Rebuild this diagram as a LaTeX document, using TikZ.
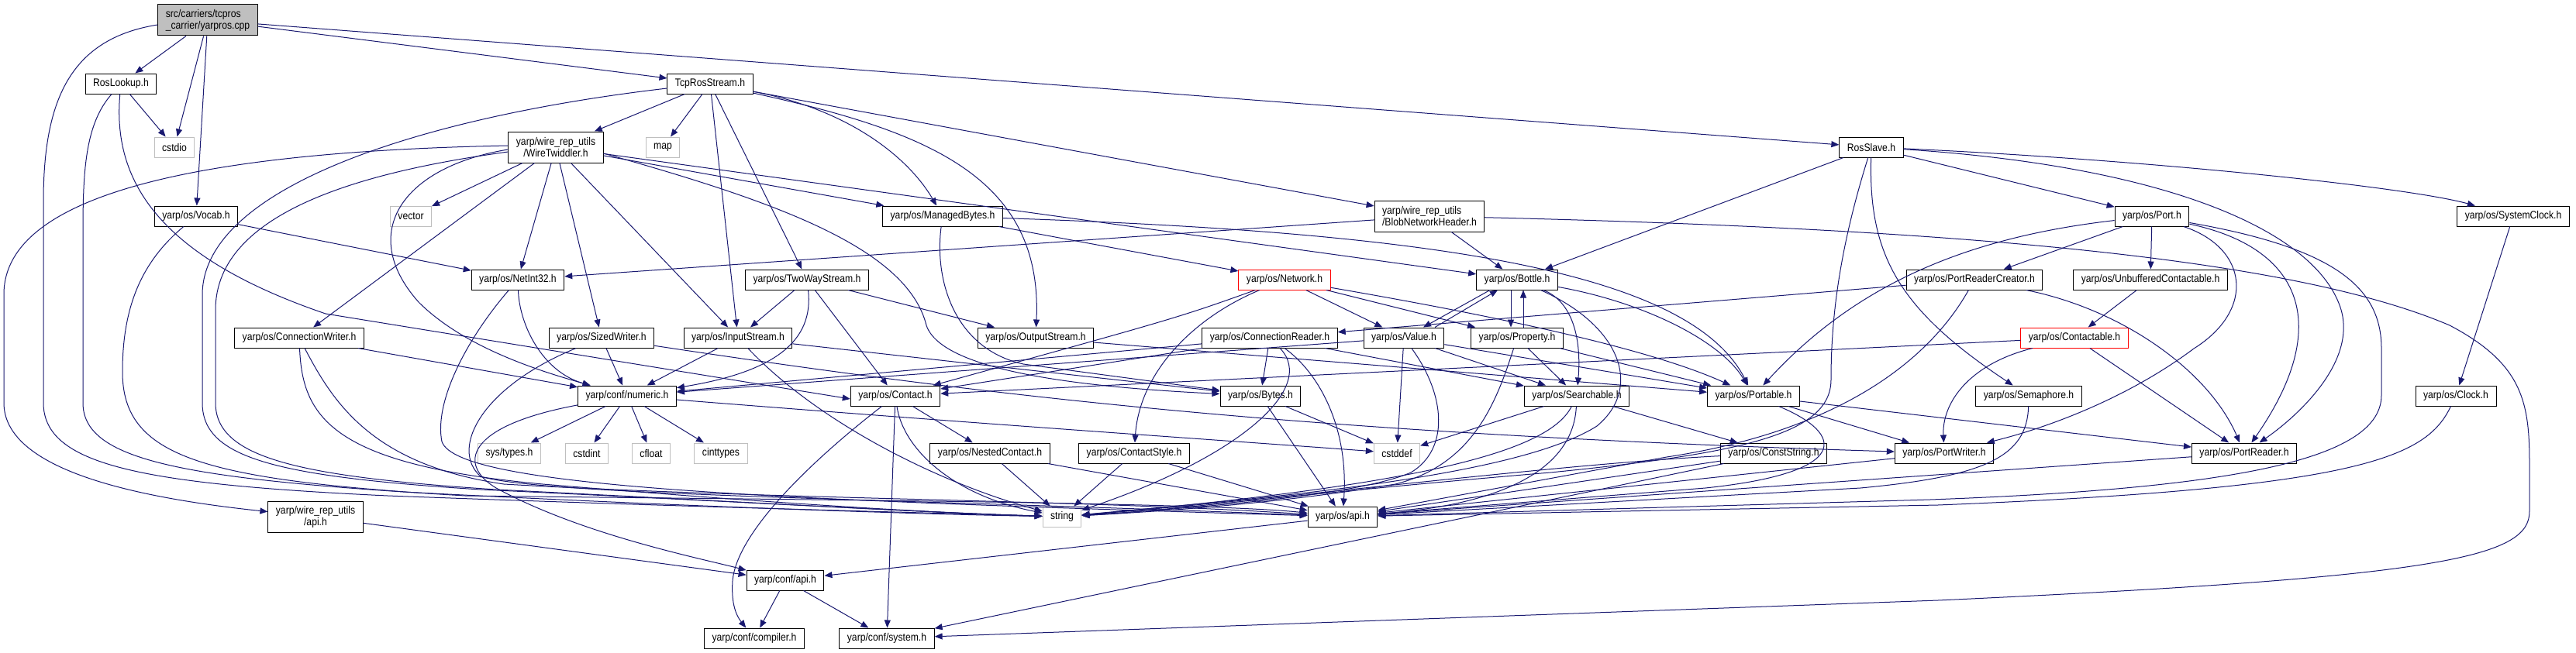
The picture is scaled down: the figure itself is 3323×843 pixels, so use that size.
\documentclass[tikz,border=0pt]{standalone}
\usepackage{fontspec}
\setmainfont{Liberation Sans}[FakeStretch=0.87]
\usetikzlibrary{arrows.meta}
\definecolor{edgeblue}{RGB}{25,25,112}
\definecolor{sysgray}{RGB}{191,191,191}
\newcommand{\hdrfont}{\fontsize{14}{15}\selectfont}
\tikzset{
  hdr/.style={draw=black, line width=1pt, fill=white, font=\hdrfont,
              inner xsep=10pt, inner ysep=0pt, minimum height=26pt},
  hdrtwo/.style={hdr, minimum height=40pt, align=center},
  syshdr/.style={hdr, draw=sysgray},
  redhdr/.style={hdr, draw=red},
  rootfile/.style={hdr, fill=sysgray, minimum height=40pt, align=left},
  dep/.style={draw=edgeblue, line width=1pt, -{Triangle[length=10pt,width=8pt]}},
}

\begin{document}
\begin{tikzpicture}[x=1pt, y=-1pt]
\useasboundingbox (0,0) rectangle (3323,843);

% headers, row by row
\node[rootfile] (root) at (268,26) {src/carriers/tcpros\\\_carrier/yarpros.cpp};

\node[hdr] (roslookup) at (156,108) {RosLookup.h};
\node[hdr] (tcpros) at (916,108) {TcpRosStream.h};

\node[syshdr] (cstdio) at (225,190) {cstdio};
\node[hdrtwo] (wiretw) at (717,190) {yarp/wire\_rep\_utils\\/WireTwiddler.h};
\node[syshdr] (map) at (855,190) {map};
\node[hdr] (rosslave) at (2414,190) {RosSlave.h};

\node[hdr] (vocab) at (253,279) {yarp/os/Vocab.h};
\node[syshdr] (vector) at (530,279) {vector};
\node[hdr] (managed) at (1216,279) {yarp/os/ManagedBytes.h};
\node[hdrtwo, align=left] (blobhdr) at (1844,279) {yarp/wire\_rep\_utils\\/BlobNetworkHeader.h};
\node[hdr] (port) at (2776,279) {yarp/os/Port.h};
\node[hdr] (sysclock) at (3242,279) {yarp/os/SystemClock.h};

\node[hdr] (netint) at (668,361) {yarp/os/NetInt32.h};
\node[hdr] (twoway) at (1041,361) {yarp/os/TwoWayStream.h};
\node[redhdr] (network) at (1657,361) {yarp/os/Network.h};
\node[hdr] (bottle) at (1957,361) {yarp/os/Bottle.h};
\node[hdr] (prcreator) at (2547,361) {yarp/os/PortReaderCreator.h};
\node[hdr] (unbuff) at (2774,361) {yarp/os/UnbufferedContactable.h};

\node[hdr] (connwriter) at (386,436) {yarp/os/ConnectionWriter.h};
\node[hdr] (sizedwriter) at (776,436) {yarp/os/SizedWriter.h};
\node[hdr] (inputstream) at (952,436) {yarp/os/InputStream.h};
\node[hdr] (outputstream) at (1336,436) {yarp/os/OutputStream.h};
\node[hdr] (connreader) at (1638,436) {yarp/os/ConnectionReader.h};
\node[hdr] (value) at (1811,436) {yarp/os/Value.h};
\node[hdr] (property) at (1957,436) {yarp/os/Property.h};
\node[redhdr] (contactable) at (2676,436) {yarp/os/Contactable.h};

\node[hdr] (numeric) at (809,511) {yarp/conf/numeric.h};
\node[hdr] (contact) at (1155,511) {yarp/os/Contact.h};
\node[hdr] (bytes) at (1626,511) {yarp/os/Bytes.h};
\node[hdr] (searchable) at (2034,511) {yarp/os/Searchable.h};
\node[hdr] (portable) at (2262,511) {yarp/os/Portable.h};
\node[hdr] (semaphore) at (2617,511) {yarp/os/Semaphore.h};
\node[hdr] (clock) at (3168,511) {yarp/os/Clock.h};

\node[syshdr] (systypes) at (657,585) {sys/types.h};
\node[syshdr] (cstdint) at (757,585) {cstdint};
\node[syshdr] (cfloat) at (840,585) {cfloat};
\node[syshdr] (cinttypes) at (930,585) {cinttypes};
\node[hdr] (nested) at (1277,585) {yarp/os/NestedContact.h};
\node[hdr] (contactstyle) at (1463,585) {yarp/os/ContactStyle.h};
\node[syshdr] (cstddef) at (1802,585) {cstddef};
\node[hdr] (conststring) at (2288,585) {yarp/os/ConstString.h};
\node[hdr] (portwriter) at (2508,585) {yarp/os/PortWriter.h};
\node[hdr] (portreader) at (2895,585) {yarp/os/PortReader.h};

\node[hdrtwo] (wrapi) at (407,667) {yarp/wire\_rep\_utils\\/api.h};
\node[syshdr] (string) at (1370,667) {string};
\node[hdr] (osapi) at (1732,667) {yarp/os/api.h};

\node[hdr] (confapi) at (1013,749) {yarp/conf/api.h};
\node[hdr] (compiler) at (973,824) {yarp/conf/compiler.h};
\node[hdr] (system) at (1144,824) {yarp/conf/system.h};

% straight includes
\foreach \a/\b in {root/roslookup, root/cstdio, root/vocab, root/tcpros, root/rosslave,
    roslookup/cstdio, vocab/netint,
    tcpros/map, tcpros/wiretw, tcpros/inputstream, tcpros/twoway, tcpros/blobhdr,
    wiretw/vector, wiretw/connwriter, wiretw/netint, wiretw/sizedwriter, wiretw/inputstream,
    wiretw/managed, wiretw/bottle, managed/network, blobhdr/netint, blobhdr/bottle,
    rosslave/bottle, rosslave/port, port/prcreator, port/unbuff, sysclock/clock,
    prcreator/connreader, unbuff/contactable, contactable/contact, contactable/portreader,
    portreader/osapi, portwriter/osapi, portable/portwriter, portable/portreader,
    network/value, network/property, twoway/inputstream, twoway/contact, twoway/outputstream,
    inputstream/numeric, inputstream/bytes, outputstream/portable, sizedwriter/numeric,
    connwriter/numeric, wrapi/confapi,
    numeric/systypes, numeric/cstdint, numeric/cfloat, numeric/cinttypes,
    contact/nested, contact/system, nested/string, nested/osapi,
    contactstyle/string, contactstyle/osapi, confapi/compiler, confapi/system, osapi/confapi,
    connreader/bytes, connreader/numeric, connreader/contact, connreader/searchable,
    value/searchable, value/portable, value/cstddef, value/numeric,
    property/searchable, property/portable, searchable/cstddef, searchable/conststring,
    bytes/cstddef, bytes/osapi, conststring/osapi, conststring/system}
  \draw[dep] (\a) -- (\b);

% Bottle <-> Value, Bottle <-> Property
\draw[dep] ([xshift=-35pt]bottle.south) -- ([xshift=25pt]value.north);
\draw[dep] ([xshift=40pt]value.north) -- ([xshift=-25pt]bottle.south);
\draw[dep] ([xshift=-8pt]bottle.south) -- ([xshift=-8pt]property.north);
\draw[dep] ([xshift=8pt]property.north) -- ([xshift=8pt]bottle.south);

% long bends on the left
\draw[dep] ([yshift=-6pt]root.west) .. controls (90,50) and (56,130) .. (56,260) -- (56,520)
  .. controls (56,600) and (180,625) .. (500,640) .. controls (900,655) and (1200,662) .. (string);
\draw[dep] (roslookup) .. controls (110,160) and (107,220) .. (107,300) -- (107,520)
  .. controls (107,590) and (220,615) .. (520,635) .. controls (900,655) and (1200,664) .. (string);
\draw[dep] (roslookup) .. controls (145,230) and (200,330) .. (420,405) -- ([yshift=-4pt]contact.west);
\draw[dep] (vocab) .. controls (180,340) and (158,400) .. (158,480) .. controls (158,590) and (260,620) .. (600,640)
  .. controls (1000,645) and (1550,648) .. (osapi);
\draw[dep] ([yshift=-6pt]tcpros.west) .. controls (550,150) and (262,240) .. (261,380) -- (261,520)
  .. controls (261,590) and (350,615) .. (620,632) .. controls (1000,650) and (1200,662) .. (string);
\draw[dep] ([yshift=2pt]wiretw.west) .. controls (300,195) and (5,240) .. (5,380) -- (5,520)
  .. controls (5,600) and (150,640) .. (wrapi);
\draw[dep] ([yshift=-6pt]wiretw.west) .. controls (480,220) and (278,270) .. (278,400) -- (278,520)
  .. controls (278,590) and (380,615) .. (640,632) .. controls (1000,650) and (1200,662) .. (string);
\draw[dep] ([yshift=-3pt]wiretw.west) .. controls (520,215) and (460,300) .. (540,390)
  .. controls (600,450) and (700,480) .. (numeric);
\draw[dep] (connwriter) .. controls (390,540) and (430,600) .. (700,625) .. controls (1000,650) and (1200,662) .. (string);
\draw[dep] (connwriter) .. controls (430,520) and (480,600) .. (650,625) .. controls (1000,645) and (1400,645) .. (osapi);
\draw[dep] (sizedwriter) .. controls (620,500) and (580,580) .. (620,615) .. controls (700,640) and (1200,645) .. (osapi);
\draw[dep] (netint) .. controls (670,420) and (700,480) .. (numeric);
\draw[dep] (netint) .. controls (600,440) and (560,520) .. (570,570) .. controls (590,630) and (1000,645) .. (osapi);
\draw[dep] (numeric) .. controls (600,550) and (590,600) .. (640,630) .. controls (750,690) and (900,720) .. (confapi);

% middle
\draw[dep] (tcpros) .. controls (1090,140) and (1170,200) .. (managed);
\draw[dep] (tcpros) .. controls (1200,170) and (1345,230) .. (outputstream);
\draw[dep] ([yshift=-8pt]wiretw.east) .. controls (1000,260) and (1170,320) .. (1195,420)
  .. controls (1215,480) and (1400,500) .. (bytes);
\draw[dep] (managed) .. controls (1205,360) and (1230,450) .. (1320,470) -- (bytes);
\draw[dep] (managed) .. controls (1850,300) and (2180,350) .. (portable);
\draw[dep] (twoway) .. controls (1050,440) and (1000,480) .. (numeric);
\draw[dep] (inputstream) .. controls (1050,540) and (1200,620) .. (string);
\draw[dep] (sizedwriter) .. controls (1300,515) and (1700,560) .. (portwriter);
\draw[dep] (numeric) .. controls (1300,550) and (1600,570) .. (cstddef);
\draw[dep] (contact) .. controls (1040,600) and (950,690) .. (945,750) .. controls (943,780) and (950,795) .. (compiler);
\draw[dep] (contact) .. controls (1165,580) and (1230,640) .. (string);
\draw[dep] (network) .. controls (1520,410) .. (contact);
\draw[dep] (network) .. controls (1540,410) and (1470,480) .. (contactstyle);
\draw[dep] (network) .. controls (2000,420) and (2150,460) .. (portable);
\draw[dep] (connreader) .. controls (1700,480) and (1740,550) .. (osapi);
\draw[dep] (connreader) .. controls (1700,500) and (1600,590) .. (string);
\draw[dep] (bottle) .. controls (2030,390) and (2040,440) .. (searchable);
\draw[dep] (bottle) .. controls (2120,390) and (2220,440) .. (portable);
\draw[dep] (bottle) .. controls (2090,420) and (2120,500) .. (2060,550) .. controls (1950,620) and (1600,645) .. (string);
\draw[dep] (value) .. controls (1865,510) and (1870,580) .. (1820,610) .. controls (1750,640) and (1550,655) .. (string);
\draw[dep] (property) .. controls (1930,520) and (1900,600) .. (1800,625) .. controls (1650,650) and (1500,660) .. (string);
\draw[dep] (searchable) .. controls (2000,580) and (1850,625) .. (string);
\draw[dep] (searchable) .. controls (2030,600) and (1950,650) .. (osapi);
\draw[dep] (conststring) .. controls (2000,600) and (1700,640) .. (string);

% right part
\draw[dep] (blobhdr) .. controls (2500,295) and (2950,330) .. (3160,420) .. controls (3255,470) and (3263,520) .. (3263,600)
  -- (3263,660) .. controls (3263,720) and (3150,745) .. (2500,775) -- (system);
\draw[dep] (rosslave) .. controls (2750,205) and (3100,240) .. (sysclock);
\draw[dep] (rosslave) .. controls (2800,215) and (2990,300) .. (3020,400) .. controls (3040,470) and (2960,540) .. (portreader);
\draw[dep] (rosslave) .. controls (2410,330) and (2450,400) .. (semaphore);
\draw[dep] (rosslave) .. controls (2370,330) and (2362,420) .. (2362,490) .. controls (2362,560) and (2250,585) .. (2000,610)
  .. controls (1700,635) and (1500,660) .. (string);
\draw[dep] (port) .. controls (2550,305) and (2400,360) .. (portable);
\draw[dep] (port) .. controls (2900,320) and (2910,400) .. (2830,450) .. controls (2750,510) and (2650,550) .. (portwriter);
\draw[dep] (port) .. controls (2970,320) and (3010,420) .. (portreader);
\draw[dep] (port) .. controls (3010,320) and (3072,370) .. (3072,450) -- (3072,510)
  .. controls (3072,590) and (2900,630) .. (2490,645) -- (osapi);
\draw[dep] (clock) .. controls (3130,590) and (3050,630) .. (2500,652) -- (osapi);
\draw[dep] (prcreator) .. controls (2740,400) and (2850,480) .. (portreader);
\draw[dep] (prcreator) .. controls (2480,480) and (2350,560) .. (2150,590) -- (osapi);
\draw[dep] (contactable) .. controls (2540,470) and (2505,520) .. (portwriter);
\draw[dep] (semaphore) .. controls (2615,590) and (2560,615) .. (2400,630) -- (osapi);
\draw[dep] (portable) .. controls (2380,560) and (2390,610) .. (2200,630) -- (osapi);

\end{tikzpicture}
\end{document}
